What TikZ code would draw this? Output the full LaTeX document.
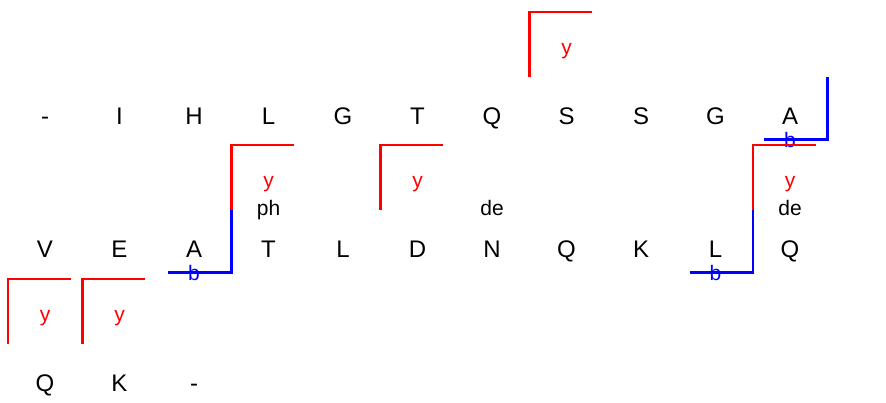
\documentclass[tikz,border=0pt]{standalone}
\usepackage{fontspec}
\setmainfont{Liberation Sans}
\usetikzlibrary{positioning}
\definecolor{YRed}{HTML}{FF0000}
\definecolor{BBlue}{HTML}{0000FF}
% y ion: bracket on the west side of a residue, label above it
\newcommand{\yfrag}[1]{%
  \draw[yl] ([yshift=23.5pt]#1.base west) |- ++(31.5pt,32.5pt);
  \node[ylab] (y-#1) at ([yshift=35pt]#1.base) {y};}
% b ion: bracket on the east side of a residue, label below it
\newcommand{\bfrag}[1]{%
  \draw[bl] ([xshift=-31.5pt,yshift=-7.75pt]#1.base east) -| ([yshift=23.5pt]#1.base east);
  \node[blab] (b-#1) at ([yshift=-7.75pt]#1.base) {b};}

\begin{document}
\begin{tikzpicture}[
  x=0.5pt,y=-0.5pt,
  node distance=0pt,
  res/.style={minimum width=37.25pt,inner xsep=0pt,inner ysep=0pt,outer sep=0pt,
    font=\fontsize{12}{14}\selectfont},
  ylab/.style={anchor=base,inner sep=0pt,text=YRed,font=\fontsize{10.5}{12}\selectfont},
  blab/.style={anchor=center,inner sep=0pt,text=BBlue,font=\fontsize{10.5}{12}\selectfont},
  modlab/.style={anchor=base,inner sep=0pt,font=\fontsize{10.5}{12}\selectfont},
  yl/.style={draw=YRed,line width=1.25pt},
  bl/.style={draw=BBlue,line width=1.25pt}
]
  \useasboundingbox (0,0) rectangle (886,402);
  % first row
  \node[res,anchor=base] (r1-0) at (45,124) {-};
  \node[res,base right=of r1-0] (r1-1) {I};
  \node[res,base right=of r1-1] (r1-2) {H};
  \node[res,base right=of r1-2] (r1-3) {L};
  \node[res,base right=of r1-3] (r1-4) {G};
  \node[res,base right=of r1-4] (r1-5) {T};
  \node[res,base right=of r1-5] (r1-6) {Q};
  \node[res,base right=of r1-6] (r1-7) {S};
  \node[res,base right=of r1-7] (r1-8) {S};
  \node[res,base right=of r1-8] (r1-9) {G};
  \node[res,base right=of r1-9] (r1-10) {A};
  % second row
  \node[res,anchor=base] (r2-0) at (45,257) {V};
  \node[res,base right=of r2-0] (r2-1) {E};
  \node[res,base right=of r2-1] (r2-2) {A};
  \node[res,base right=of r2-2] (r2-3) {T};
  \node[res,base right=of r2-3] (r2-4) {L};
  \node[res,base right=of r2-4] (r2-5) {D};
  \node[res,base right=of r2-5] (r2-6) {N};
  \node[res,base right=of r2-6] (r2-7) {Q};
  \node[res,base right=of r2-7] (r2-8) {K};
  \node[res,base right=of r2-8] (r2-9) {L};
  \node[res,base right=of r2-9] (r2-10) {Q};
  % third row
  \node[res,anchor=base] (r3-0) at (45,391) {Q};
  \node[res,base right=of r3-0] (r3-1) {K};
  \node[res,base right=of r3-1] (r3-2) {-};

  % fragment ions
  \yfrag{r1-7}
  \bfrag{r1-10}
  \bfrag{r2-2}
  \yfrag{r2-3}
  \yfrag{r2-5}
  \bfrag{r2-9}
  \yfrag{r2-10}
  \yfrag{r3-0}
  \yfrag{r3-1}

  % modifications
  \node[modlab] (ph-r2-3) at ([yshift=21pt]r2-3.base) {ph};
  \node[modlab] (de-r2-6) at ([yshift=21pt]r2-6.base) {de};
  \node[modlab] (de-r2-10) at ([yshift=21pt]r2-10.base) {de};
\end{tikzpicture}
\end{document}
